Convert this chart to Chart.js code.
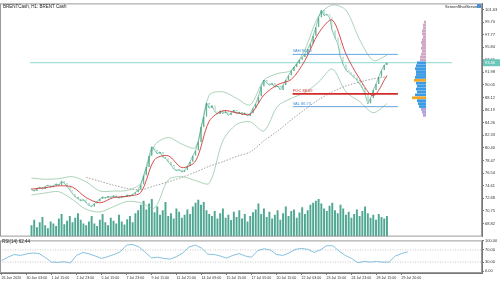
<!DOCTYPE html>
<html>
<head>
<meta charset="utf-8">
<script src="https://cdn.jsdelivr.net/npm/chart.js@4.4.0/dist/chart.umd.min.js"></script>
<style>
  body { margin: 0; background: #fff; }
  #wrap { position: relative; width: 500px; height: 281px; overflow: hidden; font-family: 'Liberation Sans', Arial, sans-serif; }
  canvas { position: absolute; }
  #mainChart { left: 0; top: 0; }
  #profileChart { left: 401px; top: 0; }
  #rsiChart { left: 0; top: 237px; }
  .txt { position: absolute; font-size: 9px; color: #222; white-space: nowrap; transform: scale(0.5); transform-origin: left top; }
  .icon { position: absolute; left: 477px; top: 4px; width: 4px; height: 4px; background: #4a90d9; }
</style>
</head>
<body>
<div id="wrap">
  <canvas id="mainChart" width="500" height="240"></canvas>
  <canvas id="profileChart" width="25" height="240"></canvas>
  <canvas id="rsiChart" width="500" height="44"></canvas>
  <div class="txt" style="left:3px; top:4px;">BRENTCash, H1: BRENT Cash</div>
  <div class="txt" style="left:445px; top:4px; font-size:8px;">ScreenShotServer</div>
  <div class="icon"></div>
  <div class="txt" style="left:2px; top:239px;">RSI(14) 62.44</div>
</div>
<script>
// hourly candles, one value per bar (bar index 0..130)
const closes = [
  74.0, 73.8, 74.2, 74.4, 74.1, 74.5, 74.7, 74.4, 74.6, 74.9,
  74.7, 75.3, 75.0, 74.5, 74.0, 73.4, 72.9, 72.6, 72.3, 72.5,
  72.0, 71.6, 71.4, 71.9, 72.2, 72.6, 72.9, 72.7, 73.0, 72.8,
  73.1, 72.9, 72.7, 73.0, 72.9, 73.2, 73.0, 73.3, 73.6, 74.0,
  74.8, 76.2, 77.5, 79.2, 80.6, 80.1, 79.5, 79.8, 79.0, 78.8,
  78.3, 77.8, 77.2, 76.9, 77.1, 76.7, 77.0, 77.6, 78.3, 79.2,
  80.0, 81.3, 83.6, 85.2, 87.3, 86.5, 86.9, 86.0, 85.6, 86.1,
  85.7, 86.0, 85.4, 85.8, 86.2, 85.6, 85.9, 85.5, 85.8, 85.3,
  85.7, 86.5, 87.2, 88.3, 89.8, 90.8, 90.4, 90.0, 90.3, 89.7,
  89.9, 89.3, 90.0, 90.8, 91.5, 92.2, 92.8, 93.3, 93.9, 94.3,
  94.8, 95.6, 96.4, 97.6, 98.9, 100.4, 101.5, 100.7, 100.9, 100.4,
  98.4, 97.3, 96.4, 94.3, 93.2, 92.3, 92.0, 91.6, 91.2, 90.8,
  90.2, 89.6, 88.6, 87.2, 88.0, 89.3, 90.2, 91.3, 92.3, 93.1,
  93.46
];
const firstOpen = 74.2;

const volumes = [
  30, 45, 25, 38, 52, 30, 22, 40, 35, 28, 48, 60, 33, 42, 55, 38, 50, 62, 45, 35, 30,
  40, 55, 35, 28, 45, 60, 38, 30, 50, 42, 35, 58, 40, 32, 46, 55, 38, 62, 70, 85,
  95, 72, 88, 100, 65, 80, 58, 70, 92, 55, 62, 48, 75, 66, 50, 58, 72, 60, 80, 90,
  98, 85, 92, 70, 60, 55, 68, 48, 62, 75, 50, 58, 44, 66, 52, 70, 48, 60, 40, 55,
  65, 72, 88, 60, 75, 52, 66, 48, 58, 70, 45, 62, 80, 55, 68, 72, 50, 64, 78, 60,
  70, 85, 90, 95, 100, 88, 75, 68, 82, 90, 70, 62, 85, 75, 58, 66, 50, 60, 72, 55,
  68, 80, 62, 50, 58, 45, 60, 52, 48, 55
];

// indicator lines, one value every 5 bars
const lineStep = 5;
const maFast = [74.1, 74.3, 74.6, 74.4, 72.8, 72.0, 72.8, 73.0, 73.6, 78.6, 79.2, 77.4, 78.4, 84.5,
  86.1, 85.8, 85.6, 88.5, 90.1, 90.9, 93.8, 98.0, 100.0, 94.8, 91.0, 88.4, 91.5];
const bbUpper = [75.8, 75.6, 75.7, 76.0, 75.2, 73.8, 73.8, 73.9, 75.0, 80.8, 82.0, 81.0, 80.5, 88.5,
  89.0, 88.0, 87.0, 90.8, 91.8, 92.3, 95.5, 100.6, 102.3, 101.5, 97.0, 93.8, 94.6];
const bbLower = [73.2, 73.5, 73.7, 72.5, 71.0, 70.6, 71.4, 72.2, 72.0, 71.2, 75.5, 76.0, 75.4, 75.0,
  81.5, 84.0, 84.4, 83.0, 86.8, 88.0, 88.9, 90.5, 92.5, 89.0, 87.5, 85.8, 87.2];
const maSlow = [null, null, null, null, 75.9, 75.3, 74.7, 74.2, 74.0, 74.6, 75.2, 75.9, 76.7, 77.6,
  78.3, 79.1, 79.8, 81.5, 83.0, 84.7, 86.3, 87.8, 89.0, 89.9, 90.5, 91.0, 91.3];

// RSI(14), one value every 2 bars
const rsiStep = 2;
const rsiValues = [
  35, 46, 55, 52, 57, 60, 58, 45, 30, 29,
  31, 27, 52, 62, 57, 50, 42, 48, 55, 64,
  86, 88, 80, 62, 44, 46, 42, 40, 48, 60,
  80, 86, 76, 56, 55, 50, 43, 52, 58, 50,
  46, 68, 74, 70, 55, 52, 60, 72, 75, 72,
  62, 70, 84, 84, 66, 52, 42, 28, 32, 30,
  32, 30, 30, 50, 58, 64
];
const rsiLevels = [70, 30];

// market profile levels
const lastPrice = 93.46;
const levelNames = ['VAH', 'POC', 'VAL'];
const levelValues = [94.74, 88.69, 86.73];
const levelColors = ['#3d8fd8', '#d42a2a', '#3d8fd8'];
const levelWidths = [0.8, 1.8, 0.8];
const levelFrom = 95.5;
const levelTo = 134;

const profileLevels = [101.5, 101.0, 100.5, 100.0, 99.5, 99.0, 98.5, 98.0, 97.5, 97.0, 96.5,
  96.0, 95.5, 95.0, 94.5, 94.0, 93.5, 93.0, 92.5, 92.0, 91.5, 91.0, 90.5, 90.0, 89.5, 89.0,
  88.5, 88.0, 87.5, 87.0, 86.5, 86.0, 85.5];
const profileVolumes = [2, 3, 3, 4, 4, 3, 4, 5, 4, 5, 4, 5, 6, 6, 9, 10, 11, 10, 10, 11, 12, 10,
  9, 10, 9, 11, 14, 9, 8, 7, 5, 4, 3];
const hvnLevels = [91.5, 88.5];

// axes
const priceTicks = [101.63, 99.70, 97.77, 95.84, 93.91, 91.98, 90.05, 88.12, 86.19, 84.26,
  82.33, 80.40, 78.47, 76.54, 74.61, 72.68, 70.75, 68.82];
const rsiTicks = [100, 70, 30, 0];
const timeLabels = ['26 Jun 2020', '30 Jun 03:00', '1 Jul 15:00', '2 Jul 23:00', '5 Jul 15:00',
  '7 Jul 23:00', '9 Jul 11:00', '11 Jul 21:00', '14 Jul 09:00', '15 Jul 15:00', '17 Jul 05:00',
  '20 Jul 15:00', '22 Jul 03:00', '23 Jul 15:00', '24 Jul 23:00', '28 Jul 15:00', '29 Jul 20:00'];
const barsPerLabel = 8;
const xMin = -0.5;
const xMax = 153.74;
const priceMin = 66.82;
const priceMax = 102.55;

const framePlugin = {
  id: 'frame',
  afterDraw(chart) {
    const { ctx, chartArea: a } = chart;
    ctx.save();
    ctx.strokeStyle = '#9a9a9a';
    ctx.lineWidth = 1;
    ctx.strokeRect(a.left + 0.5, a.top + 0.5, a.right - a.left - 1, a.bottom - a.top - 1);
    ctx.restore();
  }
};

const levelLabelPlugin = {
  id: 'levelLabels',
  afterDraw(chart) {
    const { ctx, chartArea: a, scales } = chart;
    ctx.save();
    ctx.font = '4px "Liberation Sans", Arial, sans-serif';
    ctx.textBaseline = 'bottom';
    const x = scales.x.getPixelForValue(levelFrom);
    levelNames.forEach((name, i) => {
      ctx.fillStyle = levelColors[i];
      ctx.fillText(name + ' ' + levelValues[i].toFixed(2), x, scales.y.getPixelForValue(levelValues[i]) - 1);
    });
    const y = scales.y.getPixelForValue(lastPrice);
    ctx.fillStyle = '#6cc7bb';
    ctx.fillRect(a.right + 1, y - 3.5, 17, 7);
    ctx.fillStyle = '#ffffff';
    ctx.textBaseline = 'middle';
    ctx.fillText(lastPrice.toFixed(2), a.right + 3, y);
    ctx.restore();
  }
};

function stepPoints(values, step) {
  return values.map((v, i) => ({ x: i * step, y: v }));
}

function levelLine(value, from, to) {
  return [{ x: from, y: value }, { x: to, y: value }];
}

function renderMainChart() {
  const opens = [firstOpen].concat(closes.slice(0, -1));
  const candles = closes.map((c, i) => ({ x: i, y: [opens[i], c] }));
  const candleFill = candles.map(p => (p.y[1] >= p.y[0] ? '#3a9f7c' : '#ffffff'));

  const datasets = [
    {
      type: 'line', data: levelLine(lastPrice, xMin, xMax), borderColor: '#8fd8d0',
      borderWidth: 1, pointRadius: 0, order: 8
    },
    {
      type: 'bar', yAxisID: 'vol', data: volumes.map((v, i) => ({ x: i, y: v })),
      backgroundColor: '#4fa793', grouped: false, barPercentage: 0.7, categoryPercentage: 1, order: 10
    },
    {
      type: 'line', data: stepPoints(maSlow, lineStep), borderColor: '#8a8a8a', borderWidth: 0.8,
      borderDash: [1.5, 1.5], pointRadius: 0, tension: 0.3, spanGaps: false, order: 7
    },
    {
      type: 'line', data: stepPoints(bbUpper, lineStep), borderColor: '#86c29a', borderWidth: 0.7,
      pointRadius: 0, tension: 0.3, order: 6
    },
    {
      type: 'line', data: stepPoints(bbLower, lineStep), borderColor: '#86c29a', borderWidth: 0.7,
      pointRadius: 0, tension: 0.3, order: 6
    },
    {
      type: 'line', data: closes.map((c, i) => ({ x: i, y: c })), borderColor: '#3a9f7c',
      borderWidth: 0.6, pointRadius: 0, order: 5
    },
    {
      type: 'bar', data: candles, backgroundColor: candleFill, borderColor: '#3a9f7c', borderWidth: 0.5,
      borderSkipped: false, grouped: false, barPercentage: 0.6, categoryPercentage: 1, order: 4
    },
    {
      type: 'line', data: stepPoints(maFast, lineStep), borderColor: '#d43a3a', borderWidth: 0.9,
      pointRadius: 0, tension: 0.3, order: 3
    }
  ];

  levelValues.forEach((v, i) => {
    datasets.push({
      type: 'line', data: levelLine(v, levelFrom, levelTo), borderColor: levelColors[i],
      borderWidth: levelWidths[i], pointRadius: 0, order: 1
    });
  });

  new Chart(document.getElementById('mainChart'), {
    data: { datasets },
    options: {
      responsive: false,
      animation: false,
      layout: { padding: { top: 3, bottom: 3, left: 0, right: 0 } },
      plugins: { legend: { display: false }, tooltip: { enabled: false } },
      scales: {
        x: { type: 'linear', min: xMin, max: xMax, display: false },
        y: {
          position: 'right', min: priceMin, max: priceMax,
          afterFit: s => { s.width = 18; },
          afterBuildTicks: s => { s.ticks = priceTicks.map(v => ({ value: v })); },
          ticks: {
            autoSkip: false, padding: 1, color: '#333',
            font: { size: 4, family: '"Liberation Sans", Arial, sans-serif' },
            callback: v => Number(v).toFixed(2)
          },
          grid: { drawOnChartArea: false, tickLength: 2, color: '#777' },
          border: { color: '#777' }
        },
        vol: { type: 'linear', axis: 'y', position: 'left', display: false, min: 0, max: 620 }
      }
    },
    plugins: [framePlugin, levelLabelPlugin]
  });
}

function renderProfile() {
  const colors = profileLevels.map(l => {
    if (hvnLevels.includes(l)) return '#f5a623';
    if (l > levelValues[0]) return '#cfa6c4';
    if (l < levelValues[2]) return '#b4a0da';
    return '#3d9be3';
  });
  new Chart(document.getElementById('profileChart'), {
    type: 'bar',
    data: {
      datasets: [{
        data: profileLevels.map((l, i) => ({ x: profileVolumes[i], y: l })),
        backgroundColor: colors, barPercentage: 0.95, categoryPercentage: 1
      }]
    },
    options: {
      indexAxis: 'y',
      responsive: false,
      animation: false,
      layout: { padding: { top: 3, bottom: 3, left: 0, right: 0 } },
      plugins: { legend: { display: false }, tooltip: { enabled: false } },
      scales: {
        x: { type: 'linear', min: 0, max: 25, reverse: true, display: false },
        y: { type: 'linear', min: priceMin, max: priceMax, display: false }
      }
    }
  });
}

function renderRsi() {
  const datasets = [{
    type: 'line', data: stepPoints(rsiValues, rsiStep), borderColor: '#68b0d8', borderWidth: 0.8,
    pointRadius: 0, order: 1
  }];
  rsiLevels.forEach(v => {
    datasets.push({
      type: 'line', data: levelLine(v, xMin, xMax), borderColor: '#b0b0b0', borderWidth: 0.7,
      borderDash: [1, 1.5], pointRadius: 0, order: 2
    });
  });

  new Chart(document.getElementById('rsiChart'), {
    data: { datasets },
    options: {
      responsive: false,
      animation: false,
      layout: { padding: { top: 1, bottom: 0, left: 0, right: 0 } },
      plugins: { legend: { display: false }, tooltip: { enabled: false } },
      scales: {
        x: {
          type: 'linear', min: xMin, max: xMax,
          afterFit: s => { s.height = 8; },
          afterBuildTicks: s => { s.ticks = timeLabels.map((t, k) => ({ value: k * barsPerLabel })); },
          ticks: {
            autoSkip: false, maxRotation: 0, align: 'start', padding: 1, color: '#333',
            font: { size: 3.6, family: '"Liberation Sans", Arial, sans-serif' },
            callback: (v, i) => timeLabels[i]
          },
          grid: { drawOnChartArea: false, tickLength: 2, color: '#777' },
          border: { color: '#777' }
        },
        y: {
          position: 'right', min: -6, max: 101.5,
          afterFit: s => { s.width = 18; },
          afterBuildTicks: s => { s.ticks = rsiTicks.map(v => ({ value: v })); },
          ticks: {
            autoSkip: false, padding: 1, color: '#333',
            font: { size: 4, family: '"Liberation Sans", Arial, sans-serif' },
            callback: v => Number(v).toFixed(2)
          },
          grid: { drawOnChartArea: false, tickLength: 2, color: '#777' },
          border: { color: '#777' }
        }
      }
    },
    plugins: [framePlugin]
  });
}

renderMainChart();
renderProfile();
renderRsi();
</script>
</body>
</html>
